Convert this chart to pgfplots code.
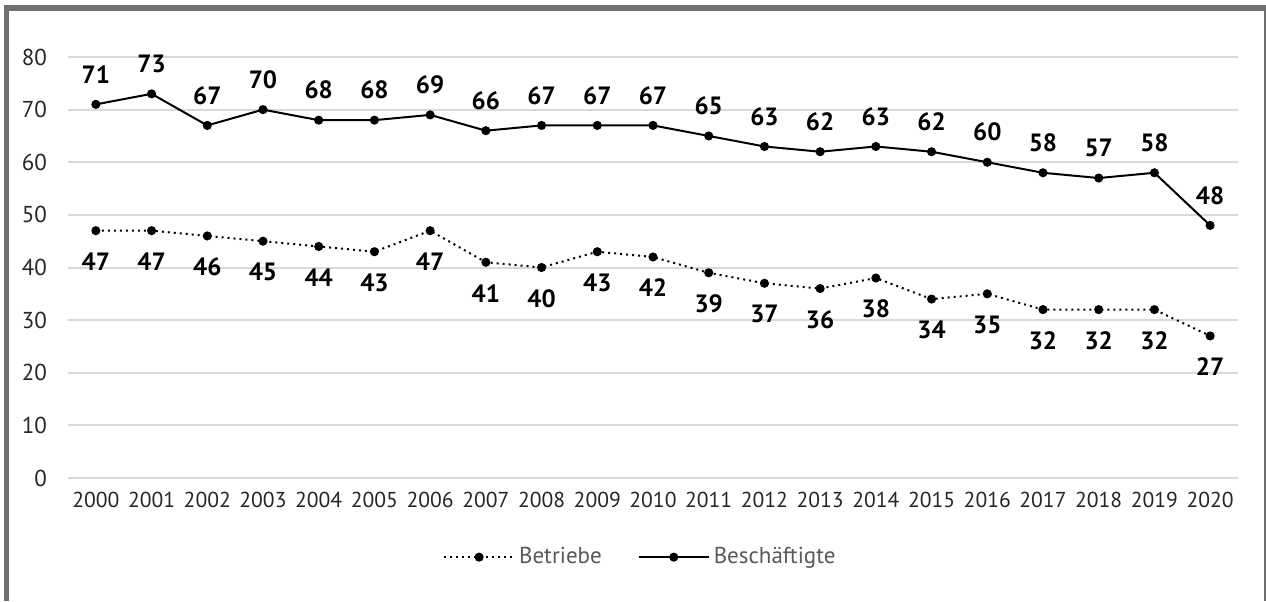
\documentclass[border=0pt]{standalone}
\usepackage{fontspec}
\setmainfont{PT Sans}
\usepackage{pgfplots}
\pgfplotsset{compat=1.18}
\pgfplotsset{/pgf/number format/assume math mode=true}

\definecolor{framegray}{HTML}{6F6F6F}
\definecolor{gridgray}{HTML}{D9D9D9}
\definecolor{ticktext}{HTML}{262626}
\definecolor{legtext}{HTML}{595959}

\begin{document}
\begin{tikzpicture}
  % outer frame (top and left heavy, right thin, no bottom)
  \draw[framegray, line width=3pt] (2pt,-4pt) -- (633pt,-4pt);
  \draw[framegray, line width=2.5pt] (3.25pt,-2.5pt) -- (3.25pt,-300.5pt);
  \draw[framegray, line width=1pt] (632.3pt,-2.5pt) -- (632.3pt,-300.5pt);

  \begin{axis}[%
    at={(34pt,-239pt)}, anchor=south west,
    scale only axis,
    width=585pt, height=210.5pt,
    xmin=1999.5, xmax=2020.5,
    ymin=0, ymax=80,
    xtick={2000,2001,...,2020},
    ytick={0,10,...,80},
    x tick label style={/pgf/number format/1000 sep={}, font=\fontsize{10.8}{13}\selectfont, text=ticktext, yshift=-3.5pt},
    y tick label style={font=\fontsize{11.5}{13}\selectfont, text=ticktext, xshift=-7pt},
    axis line style={draw=none},
    tick style={draw=none},
    ymajorgrids=true,
    grid style={gridgray, line width=1pt},
    clip=false,
    legend columns=2,
    legend style={at={(0.49,-0.188)}, anchor=center, draw=none, fill=none,
      font=\fontsize{11.5}{13}\selectfont, text=legtext,
      /tikz/every even column/.append style={column sep=16pt}},
    legend image code/.code={%
      \draw[mark repeat=2, mark phase=2, #1]
        plot coordinates {(0pt,0pt) (17.5pt,0pt) (35pt,0pt)};},
    nodes near coords,
    every node near coord/.append style={font=\bfseries\fontsize{12.5}{14}\selectfont, text=black, inner sep=0pt},
    ]

    % Betriebe
    \addplot [black, line width=1pt, dotted, mark=*, mark size=1.75pt,
      mark options={solid},
      every node near coord/.append style={anchor=north, yshift=-10.5pt}]
      coordinates {
      (2000,47) (2001,47) (2002,46) (2003,45) (2004,44) (2005,43) (2006,47)
      (2007,41) (2008,40) (2009,43) (2010,42) (2011,39) (2012,37) (2013,36)
      (2014,38) (2015,34) (2016,35) (2017,32) (2018,32) (2019,32) (2020,27)
    };
    \addlegendentry{Betriebe}

    % Beschaeftigte
    \addplot [black, line width=1pt, mark=*, mark size=1.75pt,
      every node near coord/.append style={anchor=south, yshift=10pt}]
      coordinates {
      (2000,71) (2001,73) (2002,67) (2003,70) (2004,68) (2005,68) (2006,69)
      (2007,66) (2008,67) (2009,67) (2010,67) (2011,65) (2012,63) (2013,62)
      (2014,63) (2015,62) (2016,60) (2017,58) (2018,57) (2019,58) (2020,48)
    };
    \addlegendentry{Beschäftigte}
  \end{axis}

  \pgfresetboundingbox
  \path (0pt,0pt) rectangle (633pt,-300.5pt);
\end{tikzpicture}
\end{document}
